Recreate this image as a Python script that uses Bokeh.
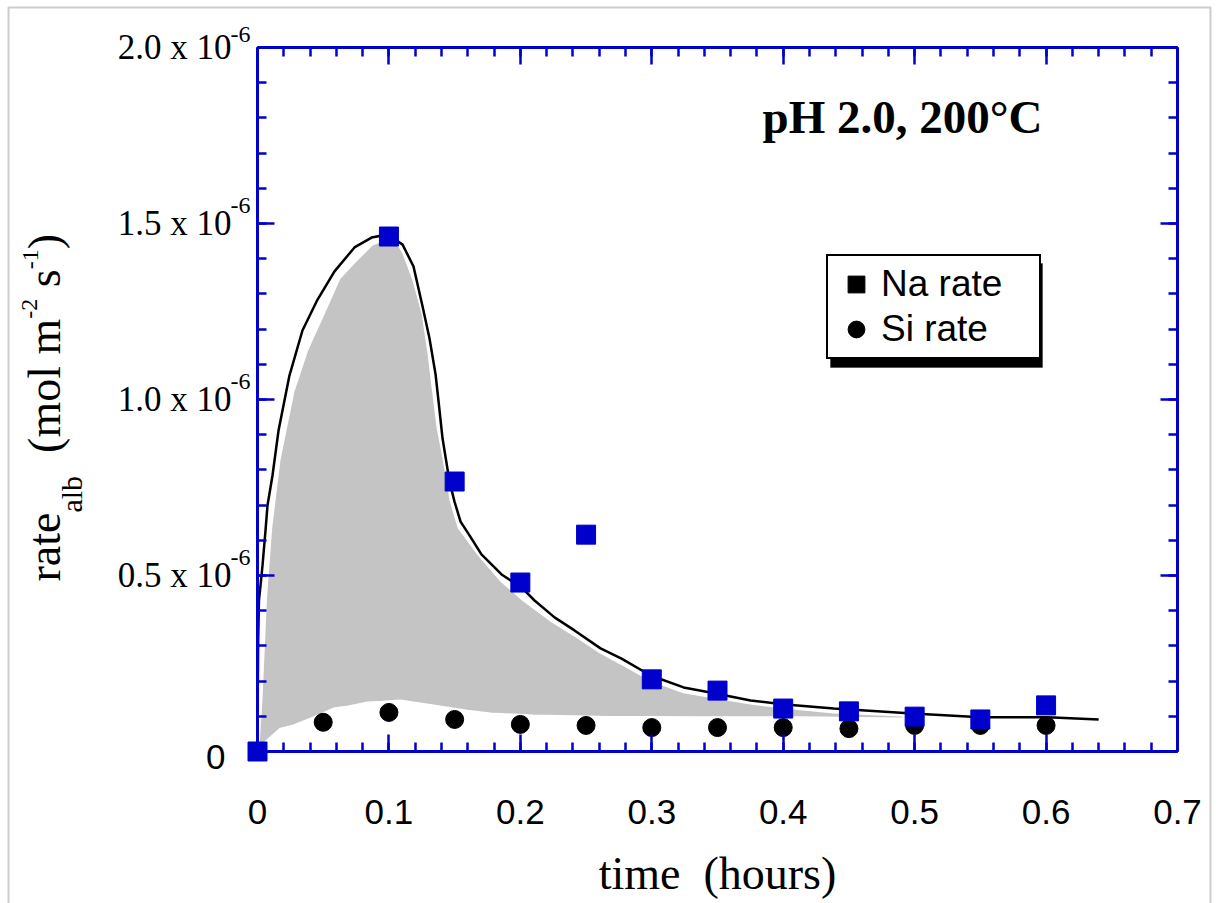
import math
from bokeh.plotting import figure
from bokeh.models import (Range1d, LinearAxis, FixedTicker, Label, Legend, LegendItem,
                          BoxAnnotation)
from bokeh.embed import file_html
from bokeh.resources import INLINE

# ---------------- data ----------------
na_time = [0.0, 0.1, 0.15, 0.2, 0.25, 0.3, 0.35, 0.4, 0.45, 0.5, 0.55, 0.6]
na_rate = [0.0, 1.463e-6, 0.767e-6, 0.480e-6, 0.616e-6, 0.205e-6, 0.173e-6,
           0.122e-6, 0.114e-6, 0.099e-6, 0.091e-6, 0.131e-6]

si_time = [0.0, 0.05, 0.1, 0.15, 0.2, 0.25, 0.3, 0.35, 0.4, 0.45, 0.5, 0.55, 0.6]
si_rate = [0.0, 0.083e-6, 0.111e-6, 0.091e-6, 0.077e-6, 0.074e-6, 0.068e-6,
           0.068e-6, 0.068e-6, 0.065e-6, 0.074e-6, 0.074e-6, 0.074e-6]

model_time = [0.0, 0.00015, 0.0005, 0.0011, 0.0023, 0.0038, 0.0061, 0.0076, 0.0114,
              0.0160, 0.0243, 0.0342, 0.0457, 0.0586, 0.0738, 0.0868, 0.0989,
              0.1050, 0.1104, 0.1187, 0.1256, 0.1309, 0.1355, 0.1380, 0.1408,
              0.1461, 0.1499, 0.1545, 0.1613, 0.1704, 0.1857, 0.2009, 0.2108,
              0.2260, 0.2412, 0.2610, 0.2770, 0.2991, 0.3242, 0.3486, 0.3752,
              0.3995, 0.4384, 0.4985, 0.5502, 0.6012, 0.6400]
model_rate = [0.0, 0.145e-6, 0.315e-6, 0.429e-6, 0.472e-6, 0.528e-6, 0.628e-6, 0.699e-6,
              0.784e-6, 0.912e-6, 1.068e-6, 1.196e-6, 1.284e-6, 1.364e-6, 1.432e-6,
              1.460e-6, 1.469e-6, 1.454e-6, 1.440e-6, 1.378e-6, 1.264e-6, 1.173e-6,
              1.071e-6, 0.986e-6, 0.889e-6, 0.767e-6, 0.710e-6, 0.653e-6, 0.614e-6,
              0.560e-6, 0.503e-6, 0.466e-6, 0.429e-6, 0.381e-6, 0.344e-6, 0.293e-6,
              0.264e-6, 0.216e-6, 0.182e-6, 0.165e-6, 0.145e-6, 0.134e-6, 0.122e-6,
              0.108e-6, 0.097e-6, 0.097e-6, 0.091e-6]

band_upper_time = [0.0, 0.0008, 0.003, 0.0065, 0.0104, 0.0167, 0.0274, 0.0377, 0.0495,
                   0.0624, 0.0743, 0.0873, 0.0977, 0.1056, 0.1111, 0.1187, 0.1256,
                   0.1301, 0.1332, 0.1370, 0.1408, 0.1454, 0.1469, 0.1530, 0.1674,
                   0.1849, 0.2024, 0.2230, 0.2435, 0.2610, 0.2763, 0.2991, 0.3242,
                   0.3486, 0.3752, 0.3995, 0.4384, 0.4893, 0.4970]
band_upper_rate = [0.0, 0.017e-6, 0.145e-6, 0.4375e-6, 0.634e-6, 0.827e-6, 1.023e-6,
                   1.139e-6, 1.236e-6, 1.344e-6, 1.392e-6, 1.440e-6, 1.455e-6, 1.450e-6,
                   1.415e-6, 1.338e-6, 1.244e-6, 1.131e-6, 1.034e-6, 0.920e-6, 0.847e-6,
                   0.750e-6, 0.713e-6, 0.636e-6, 0.5625e-6, 0.486e-6, 0.429e-6, 0.372e-6,
                   0.324e-6, 0.281e-6, 0.250e-6, 0.202e-6, 0.168e-6, 0.153e-6, 0.136e-6,
                   0.125e-6, 0.111e-6, 0.102e-6, 0.097e-6]
band_lower_time = [0.4893, 0.4132, 0.3371, 0.2610, 0.2100, 0.1773, 0.1598, 0.1339,
                   0.1088, 0.0951, 0.0837, 0.0690, 0.0578, 0.0426, 0.0274, 0.0175,
                   0.0046, 0.0]
band_lower_rate = [0.094e-6, 0.097e-6, 0.097e-6, 0.099e-6, 0.102e-6, 0.108e-6, 0.116e-6,
                   0.131e-6, 0.145e-6, 0.141e-6, 0.139e-6, 0.128e-6, 0.122e-6, 0.097e-6,
                   0.074e-6, 0.065e-6, 0.023e-6, 0.0]

x_tick_vals = [0, 0.1, 0.2, 0.3, 0.4, 0.5, 0.6, 0.7]
x_tick_text = ["0", "0.1", "0.2", "0.3", "0.4", "0.5", "0.6", "0.7"]
x_minor_vals = [round(0.02 * i, 2) for i in range(36)]
y_tick_vals = [0, 0.5e-6, 1.0e-6, 1.5e-6, 2.0e-6]
y_tick_text = ["0", "0.5 x 10", "1.0 x 10", "1.5 x 10", "2.0 x 10"]
y_tick_exp = "-6"
y_minor_vals = [round(0.1 * i, 1) * 1e-6 for i in range(21)]

title_text = "pH 2.0, 200°C"
x_title = "time\u00a0 (hours)"
legend_labels = ["Na rate", "Si rate"]

# ---------------- geometry / style ----------------
BLUE = "#0000CC"
SERIF = "Liberation Serif"
SANS = "Liberation Sans"
BASE_K = 0.39   # measured shift of Bokeh's alphabetic anchor, in em

W, H = 1218, 903
BOX_L, BOX_R, BOX_T, BOX_B = 257, 1177, 47, 751      # data box in canvas pixels
X0, X1 = x_tick_vals[0], x_tick_vals[-1]
Y0, Y1 = y_tick_vals[0], y_tick_vals[-1]
kx = (X1 - X0) / (BOX_R - BOX_L)
ky = (Y1 - Y0) / (BOX_B - BOX_T)

p = figure(width=W, height=H, output_backend="svg", toolbar_location=None,
           x_range=Range1d(X0 - BOX_L * kx, X1 + (W - BOX_R) * kx),
           y_range=Range1d(Y0 - (H - BOX_B) * ky, Y1 + BOX_T * ky),
           min_border=0, min_border_left=0, min_border_right=0,
           min_border_top=0, min_border_bottom=0)
p.outline_line_color = None
p.xgrid.visible = False
p.ygrid.visible = False
p.background_fill_color = "white"
p.border_fill_color = "white"

xa = p.below[0]
ya = p.left[0]
xt = FixedTicker(ticks=x_tick_vals, minor_ticks=x_minor_vals)
yt = FixedTicker(ticks=y_tick_vals, minor_ticks=y_minor_vals)
xa.ticker = xt
ya.ticker = yt
top = LinearAxis(ticker=xt)
right = LinearAxis(ticker=yt)
p.add_layout(top, "above")
p.add_layout(right, "right")

xa.fixed_location = Y0
top.fixed_location = Y1
ya.fixed_location = X0
right.fixed_location = X1

for ax in [xa, top]:
    ax.bounds = (X0, X1)
for ax in [ya, right]:
    ax.bounds = (Y0, Y1)

for ax in [xa, ya, top, right]:
    ax.axis_line_color = BLUE
    ax.axis_line_width = 3
    ax.major_tick_line_color = BLUE
    ax.major_tick_line_width = 2.5
    ax.minor_tick_line_color = BLUE
    ax.minor_tick_line_width = 2.5
    ax.major_tick_in = 17
    ax.major_tick_out = 0
    ax.minor_tick_in = 9
    ax.minor_tick_out = 0

top.major_label_overrides = {v: "" for v in x_tick_vals}
right.major_label_overrides = {v: "" for v in y_tick_vals}
top.major_label_standoff = 0
right.major_label_standoff = 0

xa.major_label_overrides = dict(zip(x_tick_vals, x_tick_text))
xa.major_label_text_font = SANS
xa.major_label_text_font_size = "35px"
xa.major_label_text_color = "black"
xa.major_label_standoff = 48
xa.axis_label = x_title
xa.axis_label_text_font = SERIF
xa.axis_label_text_font_size = "46px"
xa.axis_label_text_font_style = "normal"
xa.axis_label_text_color = "black"
xa.axis_label_standoff = 21

y_over = dict(zip(y_tick_vals, y_tick_text))
y_over[y_tick_vals[0]] = ""
ya.major_label_overrides = y_over
ya.major_label_text_font = SERIF
ya.major_label_text_font_size = "35px"
ya.major_label_text_color = "black"
ya.major_label_standoff = 26


def lab(px, py, text, **kw):
    """Label placed at canvas pixels (px, py), measured from the top-left corner."""
    return Label(x=px, y=H - py, x_units="screen", y_units="screen", text=text, **kw)


# outer picture border (left, top, right)
p.add_layout(BoxAnnotation(left=8, right=1210, top=H - 7, bottom=-20,
                           left_units="screen", right_units="screen",
                           top_units="screen", bottom_units="screen",
                           fill_alpha=0, line_color="#555555", line_width=2))

# zero label on y (sans)
p.add_layout(lab(225, 756, y_tick_text[0], text_align="right", text_baseline="middle",
                 text_font=SANS, text_font_size="35px", text_color="black"))
# exponents of the y tick labels
for v in y_tick_vals[1:]:
    ty = BOX_B - (v - Y0) / ky
    off = 13 if v == y_tick_vals[-1] else 18
    p.add_layout(lab(250, ty - off, y_tick_exp, text_align="right", text_baseline="middle",
                     text_font=SERIF, text_font_size="24px", text_color="black"))

# ---------------- y axis title (rotated, with sub/superscripts) ----------------
TIMES = {' ': 250, '(': 333, ')': 333, 'a': 444, 'b': 500, 'e': 444, 'l': 278,
         'm': 778, 'o': 500, 'r': 333, 's': 389, 't': 278, '-': 333, '1': 500, '2': 500}


def tw(s, size):
    return sum(TIMES[c] for c in s) / 1000.0 * size


cur_y = 581
# (text, font px, baseline x in canvas px, spaces after)
pieces = [("rate", 46, 62, 0), ("alb", 30, 83, 2), ("(mol m", 46, 62, 0),
          ("-2", 24, 38, 1), ("s", 46, 62, 0), ("-1", 24, 39, 0), (")", 46, 62, 0)]
for txt, size, bx, spaces_after in pieces:
    p.add_layout(lab(bx - BASE_K * size, cur_y, txt, angle=math.pi / 2, text_align="left",
                     text_baseline="alphabetic", text_font=SERIF,
                     text_font_size=f"{size}px", text_color="black"))
    cur_y -= tw(txt, size) + spaces_after * tw(" ", 46)

# ---------------- glyphs ----------------
p.patch(band_upper_time + band_lower_time, band_upper_rate + band_lower_rate,
        fill_color="#C4C4C4", line_color="white", line_width=2)
p.line(model_time, model_rate, line_color="black", line_width=2.5)
si_r = p.scatter(si_time, si_rate, marker="circle", size=18, fill_color="black",
                 line_color="black")
na_black = p.scatter(na_time, na_rate, marker="square", size=13, fill_color="black",
                     line_color="black")
p.scatter(na_time, na_rate, marker="square", size=19, fill_color=BLUE, line_color=BLUE)

# title label (baseline at canvas y = 135)
p.add_layout(lab(762, 135 - BASE_K * 47, title_text, text_align="left",
                 text_baseline="alphabetic", text_font=SERIF, text_font_size="47px",
                 text_font_style="bold", text_color="black"))

# ---------------- legend (with drop shadow) ----------------
LG_L, LG_R, LG_T, LG_B = 826, 1038, 255, 359
p.add_layout(BoxAnnotation(left=LG_L + 4, right=LG_R + 4, top=H - (LG_T + 8),
                           bottom=H - (LG_B + 8),
                           left_units="screen", right_units="screen",
                           top_units="screen", bottom_units="screen",
                           fill_color="black", fill_alpha=1.0, line_color="black"))
legend = Legend(items=[LegendItem(label=legend_labels[0], renderers=[na_black]),
                       LegendItem(label=legend_labels[1], renderers=[si_r])],
                location=(LG_L, H - LG_B), orientation="vertical",
                margin=0, padding=7, spacing=3,
                glyph_width=42, glyph_height=42, label_height=42, label_width=151,
                label_standoff=4, label_text_font=SANS, label_text_font_size="37px",
                label_text_color="black",
                border_line_color="black", border_line_width=2.5, border_line_alpha=1.0,
                background_fill_color="white", background_fill_alpha=1.0)
p.add_layout(legend)

open("out.html", "w").write(file_html(p, INLINE))
